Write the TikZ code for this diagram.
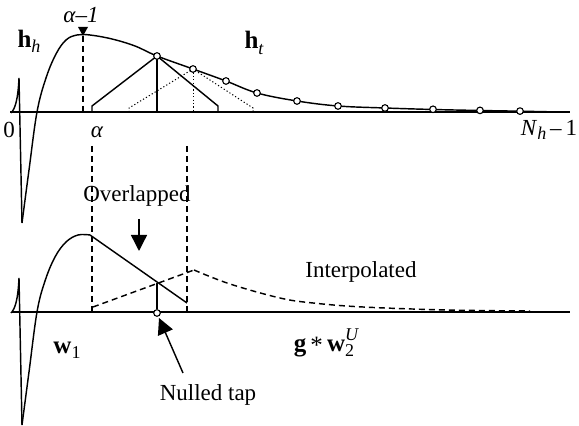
\documentclass[tikz,border=0pt]{standalone}
\usepackage{fontspec}
\setmainfont{Liberation Serif}
\usetikzlibrary{arrows.meta}
\newcommand\lowsub[1]{\raisebox{-0.45ex}{\fontsize{9}{10}\selectfont #1}}
\newcommand\highsup[1]{\raisebox{0.9ex}{\fontsize{9}{10}\selectfont #1}}
\begin{document}
\begin{tikzpicture}[x=0.5pt,y=-0.5pt,line width=0.72pt,
  lbl/.style={inner sep=0pt,font=\fontsize{11.5}{13}\selectfont},
  blbl/.style={inner sep=0pt,font=\fontsize{12.5}{14}\selectfont},
  tap/.style={draw,fill=white,line width=0.55pt},
  dsh/.style={dash pattern=on 3pt off 2pt},
  dot/.style={dash pattern=on 0.6pt off 1.1pt,line width=0.5pt},
  bigarrow/.style={-{Triangle[width=8pt,length=8pt]}}]
\useasboundingbox (0,0) rectangle (579,426);

% ---------- top panel ----------
\draw (10,112) -- (570,112);
\draw (11,113) .. controls (15,109) and (18,100) .. (19,78) -- (22,223);
\draw plot[smooth,tension=0.6] coordinates {(22,223) (29,170) (37,112) (46,78) (56,54) (66,40) (77,35) (90,35) (112,39) (135,46) (157,56) (193,69) (226,81) (257,93) (297,101) (338,106) (385,108) (433,109.5) (480,110.5) (520,111.2) (560,112)};
% marker
\fill (78,27) -- (88,27) -- (83,36) -- cycle;
\draw[dsh] (83,36) -- (83,112);
% solid triangle
\draw (92,112) -- (92,106) -- (157,56) -- (218,106) -- (218,112);
\draw (157,56) -- (157,112);
% dotted triangle
\draw[dot] (129,112) -- (129,108) -- (193,69) -- (253,108) -- (253,112);
\draw[dot] (193,69) -- (193,112);
% taps
\foreach \x/\y in {157/56,193/69,226/81,257/93,297/101,338/106,385/108,433/109.3,480/110.4,520/111.1}
  \draw[tap] (\x,\y) circle (3.3);

\node[blbl] (hh) at (29,41) {\textbf{h}\lowsub{\itshape h}};
\node[blbl] (ht) at (254,43) {\textbf{h}\lowsub{\itshape t}};
\node[lbl] (am1) at (81,15) {\itshape α–1};
\node[lbl] (zero) at (9,130) {0};
\node[lbl] (alpha) at (97,132) {\itshape α};
\node[lbl] (nh) at (549,130) {\textit{N}\lowsub{\itshape h}\,–\,1};

% ---------- dashed guides ----------
\draw[dsh] (92,146) -- (92,312);
\draw[dsh] (187,146) -- (187,312);

\node[lbl] (ovl) at (137,196) {Overlapped};
\coordinate (ovlA) at (139,219);
\coordinate (ovlB) at (139,251);
\draw[bigarrow] (ovlA) -- (ovlB);

% ---------- bottom panel ----------
\draw (12,312) -- (570,312);
\draw (11,313) .. controls (15,309) and (18,300) .. (19,278) -- (22,425);
\draw plot[smooth,tension=0.6] coordinates {(22,425) (29,372) (37,312) (45,281) (55,257) (66,242) (78,235) (90,235)};
\draw (90,235) -- (187,303);
\draw[dsh] (93,307) -- (194,270);
\draw[dsh] plot[smooth,tension=0.6] coordinates {(194,270) (230,284) (280,298) (313,303) (363,307) (447,310) (530,311)};
\coordinate (cross) at (157,283);
\draw (cross) -- (157,309.5);
\draw[tap] (157,313) circle (3.3);

\node[lbl] (interp) at (361,272) {Interpolated};
\node[blbl] (w1) at (67,350) {\textbf{w}\lowsub{1}};
\node[blbl] (gw) at (324,343) {\textbf{g}\,\raisebox{-0.2ex}{*}\,\textbf{w}\rlap{\highsup{\itshape U}}\lowsub{2}};
\node[lbl] (null) at (208,395) {Nulled tap};
\coordinate (nA) at (183,373);
\coordinate (nB) at (159,318);
\draw[bigarrow] (nA) -- (nB);
\end{tikzpicture}
\end{document}
